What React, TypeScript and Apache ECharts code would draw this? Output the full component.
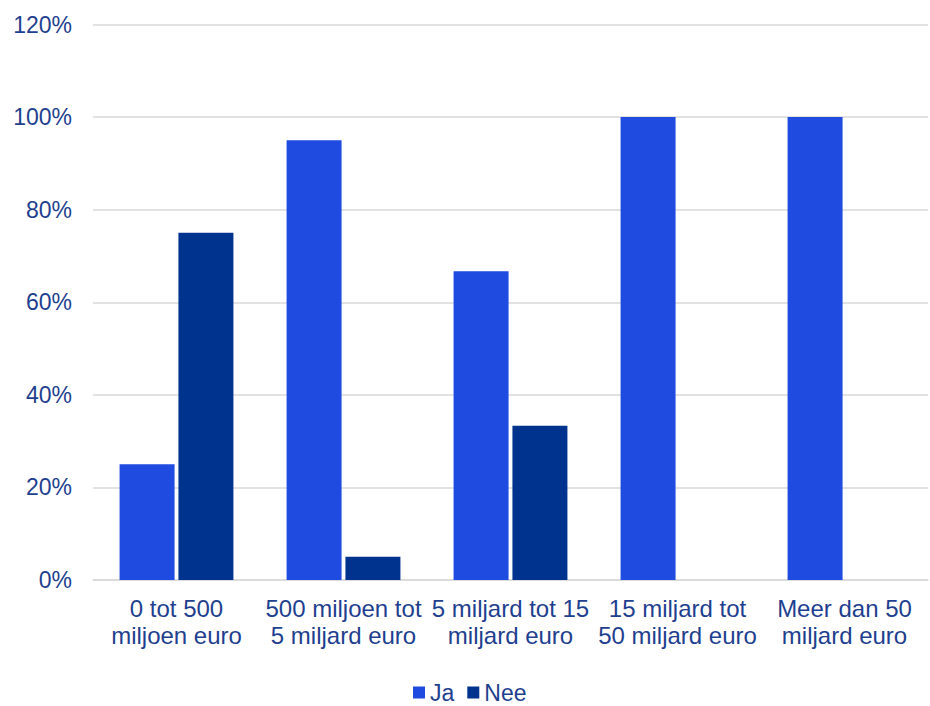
import React, { useEffect, useRef } from "react";
import * as echarts from "echarts";

const categories = [
  "0 tot 500\nmiljoen euro",
  "500 miljoen tot\n5 miljard euro",
  "5 miljard tot 15\nmiljard euro",
  "15 miljard tot\n50 miljard euro",
  "Meer dan 50\nmiljard euro",
];
const jaValues = [25, 95, 66.67, 100, 100];
const neeValues = [75, 5, 33.33, 0, 0];
const seriesNames = ["Ja", "Nee"];

const textColor = "#1f3f8f";
const font = "Liberation Sans, Arial, sans-serif";

export default function App() {
  const ref = useRef<HTMLDivElement>(null);
  useEffect(() => {
    const chart = echarts.init(ref.current!, undefined, { renderer: "svg" });
    chart.setOption({
      animation: false,
      textStyle: { fontFamily: font },
      grid: { left: 93, right: 2, top: 24.5, bottom: 126, containLabel: false },
      legend: {
        data: seriesNames,
        top: 681,
        left: 413,
        padding: 0,
        itemWidth: 12,
        itemHeight: 12,
        itemGap: 13,
        icon: "rect",
        textStyle: { color: textColor, fontSize: 23, fontFamily: font },
      },
      xAxis: {
        type: "category",
        data: categories,
        axisTick: { show: false },
        axisLine: { lineStyle: { color: "#d9d9d9", width: 1.5 } },
        axisLabel: {
          color: textColor,
          fontSize: 24,
          lineHeight: 27,
          margin: 15,
          interval: 0,
          fontFamily: font,
        },
      },
      yAxis: {
        type: "value",
        min: 0,
        max: 120,
        interval: 20,
        axisLabel: {
          formatter: "{value}%",
          color: textColor,
          fontSize: 23,
          margin: 21,
          fontFamily: font,
        },
        splitLine: { lineStyle: { color: "#d9d9d9", width: 1.5 } },
        axisLine: { show: false },
        axisTick: { show: false },
      },
      series: [
        {
          name: "Ja",
          type: "bar",
          data: jaValues,
          barWidth: 55,
          barGap: "7%",
          itemStyle: { color: "#1f4be0" },
        },
        {
          name: "Nee",
          type: "bar",
          data: neeValues,
          barWidth: 55,
          barGap: "7%",
          itemStyle: { color: "#00338d" },
        },
      ],
    });
    return () => chart.dispose();
  }, []);
  return <div ref={ref} style={{ width: 930, height: 706, position: "absolute", left: 0, top: 0 }} />;
}
